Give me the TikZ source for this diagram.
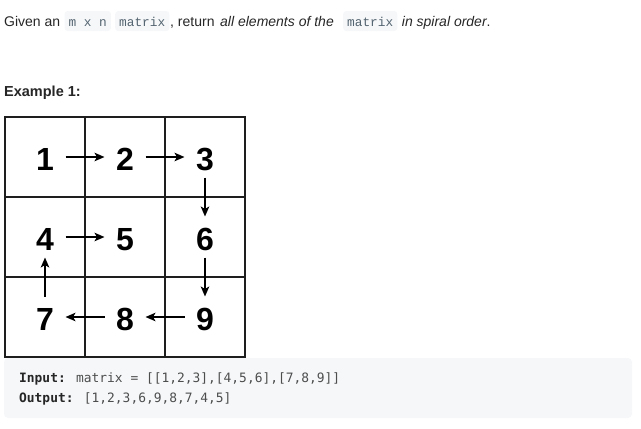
\documentclass[tikz,border=0pt]{standalone}
\usepackage{fontspec}
\setmainfont{Liberation Sans}
\newfontfamily\codemono{Liberation Mono}
\newfontfamily\blockmono{DejaVu Sans Mono}
\usetikzlibrary{arrows.meta}
\definecolor{txt}{HTML}{262626}
\definecolor{codebg}{HTML}{F5F7F9}
\definecolor{codefg}{HTML}{546470}
\definecolor{blockfg}{HTML}{4D4D4D}
\definecolor{gridc}{HTML}{1E1E1E}
\tikzset{
  plain/.style={inner sep=0pt, anchor=base west, text=txt, font=\fontsize{14}{16}\selectfont},
  codespan/.style={inner xsep=4pt, inner ysep=0pt, text height=15pt, text depth=5pt, anchor=base west,
     fill=codebg, rounded corners=3pt, text=codefg, font=\codemono\fontsize{12.8}{14}\selectfont},
  cell/.style={draw=gridc, line width=2pt, minimum width=80pt, minimum height=80pt, inner sep=0pt,
     text height=26pt, text depth=0pt, font=\bfseries\fontsize{32}{34}\selectfont, text=black},
  arr/.style={line width=1.5pt, -{Stealth[length=10pt,width=8.5pt,inset=2.5pt]}, shorten <=20.5pt, shorten >=20.5pt},
  codeline/.style={inner sep=0pt, anchor=base west, text=blockfg, font=\blockmono\fontsize{12.9}{15}\selectfont}
}
\begin{document}
\begin{tikzpicture}[x=1pt,y=-1pt]
\useasboundingbox (0,0) rectangle (641,429);
% intro line
\node[plain] (t1) at (4,26) {Given an};
\node[codespan] (c1) at (64.3,26) {m x n};
\node[codespan] (c2) at (115,26) {matrix};
\node[plain] (t2) at (170,26) {, return};
\node[plain] (t3) at (220,26) {\itshape all elements of the};
\node[codespan] (c3) at (343,26) {matrix};
\node[plain] (t4) at (401.7,26) {\itshape in spiral order\upshape.};
% heading
\node[plain, font=\bfseries\fontsize{14.5}{16}\selectfont, text=txt] (ex) at (4,96.7) {Example 1:};
% grid
\node[cell] (a1) at (45,157) {1};
\node[cell] (a2) at (125,157) {2};
\node[cell] (a3) at (205,157) {3};
\node[cell] (b1) at (45,237) {4};
\node[cell] (b2) at (125,237) {5};
\node[cell] (b3) at (205,237) {6};
\node[cell] (d1) at (45,317) {7};
\node[cell] (d2) at (125,317) {8};
\node[cell] (d3) at (205,317) {9};
% arrows
\draw[arr] (a1.center) -- (a2.center);
\draw[arr] (a2.center) -- (a3.center);
\draw[arr] (a3.center) -- (b3.center);
\draw[arr] (b3.center) -- (d3.center);
\draw[arr] (d3.center) -- (d2.center);
\draw[arr] (d2.center) -- (d1.center);
\draw[arr] (d1.center) -- (b1.center);
\draw[arr] (b1.center) -- (b2.center);
% code block
\fill[codebg, rounded corners=4pt] (4,358) rectangle (632,418);
\node[codeline] (in) at (19,382) {\textbf{\color{txt}Input:} matrix = [[1,2,3],[4,5,6],[7,8,9]]};
\node[codeline] (out) at (19,402) {\textbf{\color{txt}Output:} [1,2,3,6,9,8,7,4,5]};
\end{tikzpicture}
\end{document}
